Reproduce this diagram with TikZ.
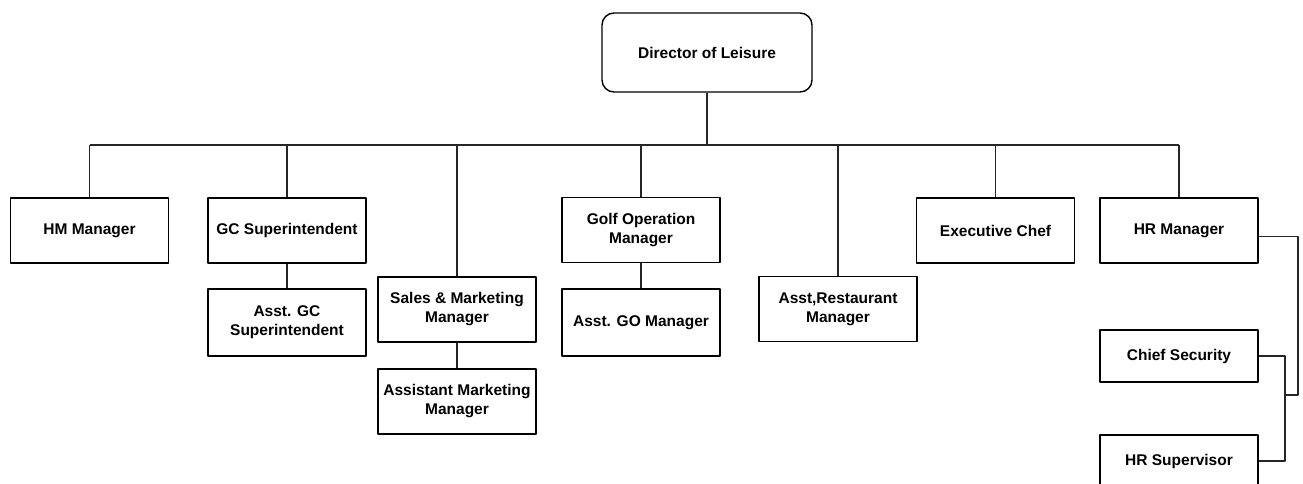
\documentclass[tikz,border=0pt]{standalone}
\usepackage{fontspec}
\setmainfont{Liberation Sans}
\begin{document}
\begin{tikzpicture}[x=1pt,y=-1pt,line join=round,
	post/.style={draw=black,line width=1.4pt,fill=white,align=center,inner sep=0pt,minimum width=158pt,minimum height=65pt,font=\fontsize{15.5}{19}\selectfont\bfseries},
	link/.style={draw=black!85,line width=1.2pt}]
\useasboundingbox (0,0) rectangle (1303,484);
	\node[post,rounded corners=12pt,minimum width=210pt,minimum height=79pt] (dir) at (707,52.5) {Director of Leisure};
	\node[post] (hm) at (89.5,230.5) {HM Manager};
	\node[post] (gc) at (287,230.5) {GC Superintendent};
	\node[post,minimum height=67pt] (agc) at (287,322.5) {Asst. GC\\Superintendent};
	\node[post] (sm) at (457,309.5) {Sales \& Marketing\\Manager};
	\node[post] (am) at (457,401.5) {Assistant Marketing\\Manager};
	\node[post] (gom) at (641,230) {Golf Operation\\Manager};
	\node[post,minimum height=67pt] (ago) at (641,322.5) {Asst. GO Manager};
	\node[post] (ar) at (838,309) {Asst,Restaurant\\Manager};
	\node[post] (ec) at (995.5,230.5) {Executive Chef};
	\node[post] (hrm) at (1179,230.5) {HR Manager};
	\node[post,minimum height=52pt] (cs) at (1179,356) {Chief Security};
	\node[post,minimum height=52pt] (hrs) at (1179,461) {HR Supervisor};
	\coordinate (bus) at (706,145);
	\coordinate (hrj) at (1285,395);
	\coordinate (hrt) at (1298,395);
% top level
	\draw[link] (dir.south) -- (dir.south |- bus);
	\draw[link] (hm.north |- bus) -- (hrm.north |- bus);
	\foreach \n in {hm,gc,sm,gom,ar,ec,hrm}
		\draw[link] (\n.north |- bus) -- (\n.north);
% assistants
	\draw[link] (gc.south) -- (agc.north);
	\draw[link] (sm.south) -- (am.north);
	\draw[link] (gom.south) -- (ago.north);
% HR branch
	\draw[link] ([yshift=-6pt]hrm.east) -| (hrt) -- (hrj);
	\draw[link] (cs.east) -| (hrj) |- (hrs.east);
\end{tikzpicture}
\end{document}
